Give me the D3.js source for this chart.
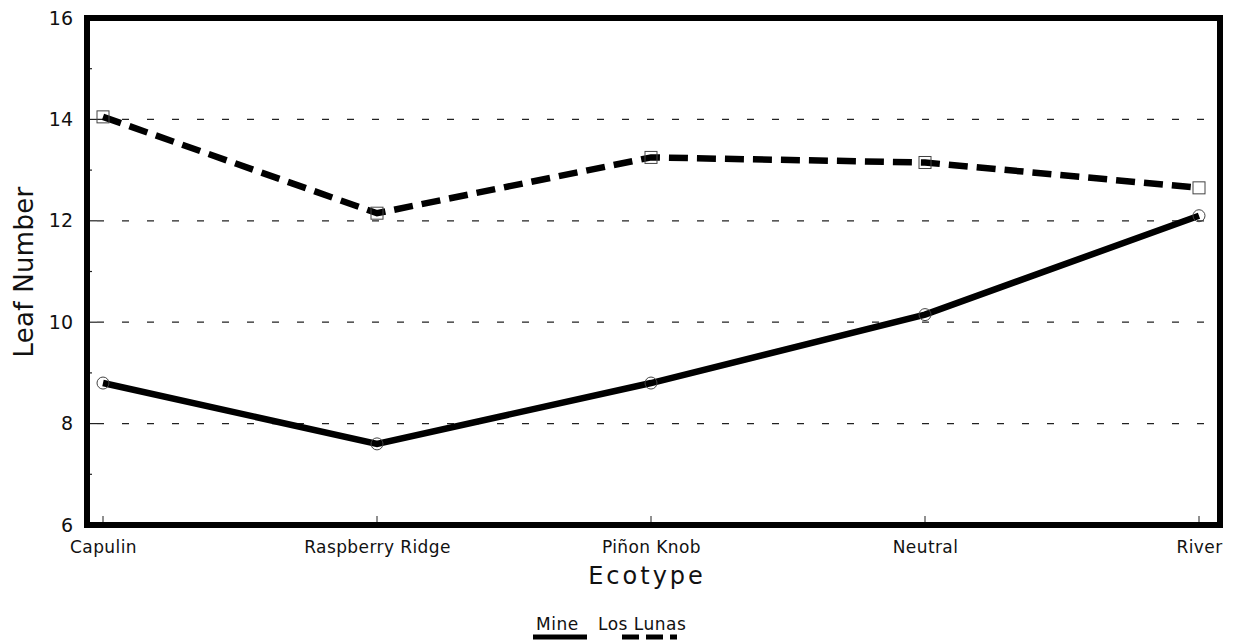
<!DOCTYPE html>
<html lang="en">
<head>
<meta charset="UTF-8">
<title>Leaf Number by Ecotype</title>
<script src="https://d3js.org/d3.v7.min.js"></script>
<style>
  body { margin: 0; background: #fff; }
  text { font-family: "DejaVu Sans", "Liberation Sans", Arial, sans-serif; fill: #111; }
</style>
</head>
<body>
<script>
const w = 1237;
const h = 643;

// data
const ecotypes = ["Capulin", "Raspberry Ridge", "Piñon Knob", "Neutral", "River"];
const mine = [8.8, 7.6, 8.8, 10.15, 12.1];
const losLunas = [14.05, 12.15, 13.25, 13.15, 12.65];
const yTicks = [6, 8, 10, 12, 14, 16];
const yMinor = [7, 9, 11, 13, 15];

// frame edges
const frameL = 87, frameR = 1220, frameT = 18, frameB = 525;

const svg = d3.select("body").append("svg")
  .attr("width", w)
  .attr("height", h);

const x = d3.scalePoint()
  .domain(ecotypes)
  .range([103, 1199]);

const y = d3.scaleLinear()
  .domain([6, 16])
  .range([frameB, frameT]);

// dashed gridlines
svg.append("g")
  .selectAll("line")
  .data(yTicks.filter(d => d > 6 && d < 16))
  .join("line")
  .attr("x1", frameL + 10)
  .attr("x2", frameR)
  .attr("y1", d => y(d))
  .attr("y2", d => y(d))
  .attr("stroke", "#222")
  .attr("stroke-width", 1.3)
  .attr("stroke-dasharray", "7,18");

// y axis tick labels
const yAxis = d3.axisLeft(y)
  .tickValues(yTicks)
  .tickSize(0)
  .tickPadding(14)
  .tickFormat(d3.format("d"));

svg.append("g")
  .attr("transform", `translate(${frameL}, 0)`)
  .call(yAxis)
  .call(g => g.select(".domain").remove())
  .call(g => g.selectAll("text")
    .style("font-family", "'DejaVu Sans', sans-serif")
    .style("font-size", "19px"));

// inside ticks on y (major and minor)
svg.append("g")
  .selectAll("line")
  .data(yTicks.concat(yMinor))
  .join("line")
  .attr("x1", frameL)
  .attr("x2", d => frameL + (yMinor.includes(d) ? 5 : 10))
  .attr("y1", d => y(d))
  .attr("y2", d => y(d))
  .attr("stroke", "#222")
  .attr("stroke-width", 1.2);

// x axis
const xAxis = d3.axisBottom(x)
  .tickSize(0)
  .tickPadding(16);

svg.append("g")
  .attr("transform", `translate(0, ${frameB})`)
  .call(xAxis)
  .call(g => g.select(".domain").remove())
  .call(g => g.selectAll("text")
    .style("font-family", "'DejaVu Sans', sans-serif")
    .style("font-size", "17px")
    .style("letter-spacing", "0.4px"));

// inside ticks on x
svg.append("g")
  .selectAll("line")
  .data(ecotypes)
  .join("line")
  .attr("x1", d => x(d))
  .attr("x2", d => x(d))
  .attr("y1", frameB)
  .attr("y2", frameB - 9)
  .attr("stroke", "#222")
  .attr("stroke-width", 1);

// lines
const line = d3.line()
  .x((d, i) => x(ecotypes[i]))
  .y(d => y(d));

svg.append("path")
  .datum(losLunas)
  .attr("d", line)
  .attr("fill", "none")
  .attr("stroke", "#000")
  .attr("stroke-width", 6.5)
  .attr("stroke-dasharray", "19,9");

svg.append("path")
  .datum(mine)
  .attr("d", line)
  .attr("fill", "none")
  .attr("stroke", "#000")
  .attr("stroke-width", 6.5);

// markers
svg.append("g")
  .selectAll("rect")
  .data(losLunas)
  .join("rect")
  .attr("x", (d, i) => x(ecotypes[i]) - 6)
  .attr("y", d => y(d) - 6)
  .attr("width", 12)
  .attr("height", 12)
  .attr("fill", "none")
  .attr("stroke", "#444")
  .attr("stroke-width", 1);

svg.append("g")
  .selectAll("circle")
  .data(mine)
  .join("circle")
  .attr("cx", (d, i) => x(ecotypes[i]))
  .attr("cy", d => y(d))
  .attr("r", 6)
  .attr("fill", "none")
  .attr("stroke", "#444")
  .attr("stroke-width", 1);

// frame
svg.append("rect")
  .attr("x", frameL)
  .attr("y", frameT)
  .attr("width", frameR - frameL)
  .attr("height", frameB - frameT)
  .attr("fill", "none")
  .attr("stroke", "#000")
  .attr("stroke-width", 6);

// axis titles
svg.append("text")
  .attr("transform", `translate(33, 272) rotate(-90)`)
  .attr("text-anchor", "middle")
  .style("font-size", "26px")
  .style("letter-spacing", "0.3px")
  .text("Leaf Number");

svg.append("text")
  .attr("x", 647)
  .attr("y", 584)
  .attr("text-anchor", "middle")
  .style("font-size", "24px")
  .style("letter-spacing", "3px")
  .text("Ecotype");

// legend
const legend = [
  { name: "Mine", x: 536, dash: null, lx1: 533, lx2: 587 },
  { name: "Los Lunas", x: 598, dash: "17,7", lx1: 622, lx2: 677 }
];
const lg = svg.append("g");
legend.forEach(l => {
  lg.append("text")
    .attr("x", l.x)
    .attr("y", 630)
    .style("font-size", "17px")
    .style("letter-spacing", "0.5px")
    .text(l.name);
  lg.append("line")
    .attr("x1", l.lx1)
    .attr("x2", l.lx2)
    .attr("y1", 637)
    .attr("y2", 637)
    .attr("stroke", "#000")
    .attr("stroke-width", 5)
    .attr("stroke-dasharray", l.dash);
});
</script>
</body>
</html>
